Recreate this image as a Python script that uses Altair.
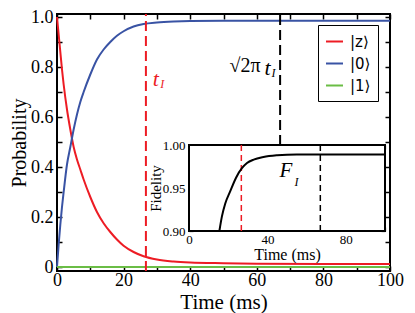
import altair as alt
import pandas as pd

# ---- data ----
time = [0, 0.5, 1, 1.5, 2, 3, 4, 5, 6, 7, 8, 10, 12, 14, 16, 18, 20, 23, 26, 30, 35, 40, 50, 60, 80, 100]
p_z = [1.0, 0.93, 0.86, 0.79, 0.73, 0.63, 0.55, 0.48, 0.43, 0.39, 0.35, 0.28, 0.22, 0.175, 0.14, 0.11,
       0.085, 0.06, 0.043, 0.03, 0.022, 0.018, 0.015, 0.013, 0.012, 0.012]
p_0 = [0.0, 0.09, 0.17, 0.24, 0.30, 0.41, 0.48, 0.55, 0.61, 0.66, 0.70, 0.77, 0.83, 0.87, 0.90, 0.925,
       0.943, 0.962, 0.972, 0.978, 0.982, 0.984, 0.985, 0.985, 0.985, 0.985]
time_1 = [0, 20, 40, 60, 80, 100]
p_1 = [0.0, 0.0, 0.0, 0.0, 0.0, 0.0]

fid_t = [15.5, 16.8, 18.5, 21, 24, 27, 29.6, 33, 38, 45, 55, 70, 100]
fid_v = [0.90, 0.917, 0.932, 0.946, 0.962, 0.973, 0.979, 0.983, 0.986, 0.988, 0.989, 0.989, 0.989]

t_I = 26.7
t_I2 = 67.0

states = ["|z⟩", "|0⟩", "|1⟩"]
colors = ["#ed1c24", "#3953a4", "#6abd45"]

x_ticks = [0, 10, 20, 30, 40, 50, 60, 70, 80, 90, 100]
y_ticks = [0, 0.1, 0.2, 0.3, 0.4, 0.5, 0.6, 0.7, 0.8, 0.9, 1.0]
ix_ticks = [0, 10, 20, 30, 40, 50, 60, 70, 80, 90, 100]
iy_ticks = [0.90, 0.91, 0.92, 0.93, 0.94, 0.95, 0.96, 0.97, 0.98, 0.99, 1.00]

FONT = "Liberation Serif"
LFONT = "DejaVu Sans"

rows = []
for t, a, b in zip(time, p_z, p_0):
    rows.append({"t": t, "p": a, "state": states[0]})
    rows.append({"t": t, "p": b, "state": states[1]})
for t, c in zip(time_1, p_1):
    rows.append({"t": t, "p": c, "state": states[2]})
df = pd.DataFrame(rows)
fid = pd.DataFrame({"t": fid_t, "f": fid_v})
one = pd.DataFrame({"k": [0]})

W, H = 333, 257
YTOP, YBOT = 1.012, -0.016
xs = alt.Scale(domain=[0, 100], nice=False, zero=False)
ys = alt.Scale(domain=[YBOT, YTOP], nice=False, zero=False)
ixs = alt.Scale(domain=[0, 100], range=[132, 328], nice=False, zero=False)
iys = alt.Scale(domain=[0.9, 1.0], range=[217, 131], nice=False, zero=False)

# ---- main plot (axes come from the frame layers) ----
lines = alt.Chart(df).mark_line(strokeWidth=2, interpolate="monotone").encode(
    x=alt.X("t:Q", scale=xs, axis=None),
    y=alt.Y("p:Q", scale=ys, axis=None),
    color=alt.Color("state:N", scale=alt.Scale(domain=states, range=colors), legend=alt.Legend(
        orient="none", legendX=261, legendY=11, title=None, symbolType="stroke", symbolSize=289,
        symbolStrokeWidth=2, labelFont=LFONT, labelFontSize=15, labelColor="black",
        strokeColor="black", fillColor="white", padding=7, rowPadding=4, labelOffset=6)),
)

rule_red = alt.Chart(one).mark_rule(color="#ed1c24", strokeWidth=2, strokeDash=[10, 5]).encode(
    x=alt.X(datum=t_I, axis=None), y=alt.Y(datum=YBOT, axis=None), y2=alt.Y2(datum=YTOP))
rule_blk = alt.Chart(one).mark_rule(color="black", strokeWidth=2, strokeDash=[10, 5]).encode(
    x=alt.X(datum=t_I2, axis=None), y=alt.Y(datum=0.488, axis=None), y2=alt.Y2(datum=YTOP))


def txt(s, x, y, size, color="black", italic=True):
    return alt.Chart(one).mark_text(text=s, font=FONT, fontSize=size, color=color,
                                    fontStyle="italic" if italic else "normal", baseline="middle").encode(
        x=alt.X(datum=x, axis=None), y=alt.Y(datum=y, axis=None))


main = alt.layer(
    lines, rule_red, rule_blk,
    txt("t", 29.7, 0.754, 22, "#ed1c24"), txt("I", 31.6, 0.734, 12, "#ed1c24"),
    txt("√2π", 56.5, 0.804, 20, italic=False),
    txt("t", 63.2, 0.796, 22), txt("I", 65.0, 0.778, 12),
)

common = dict(domain=False, grid=False, labelFont=FONT, titleFont=FONT, titleFontWeight="normal",
              labelColor="black", titleColor="black", tickColor="black", labelOverlap=False, labelFlush=False)

frame_bl = alt.Chart(df).mark_point(opacity=0).encode(
    x=alt.X("t:Q", scale=xs, axis=alt.Axis(
        orient="bottom", values=x_ticks, labelExpr="datum.value % 20 == 0 ? datum.label : ''", format="d",
        tickSize=5, tickWidth=1.5, offset=-5, labelPadding=0, labelFontSize=18,
        title="Time (ms)", titleFontSize=21, titleY=42, titleBaseline="alphabetic", **common)),
    y=alt.Y("p:Q", scale=ys, axis=alt.Axis(
        orient="left", values=y_ticks,
        labelExpr="round(datum.value*10) % 2 == 0 ? (datum.value == 0 ? '0' : format(datum.value, '.1f')) : ''",
        tickSize=5, tickWidth=1.5, offset=-5, labelPadding=4, labelFontSize=18,
        title="Probability", titleFontSize=20, titleX=-37, titleBaseline="alphabetic", **common)),
)

frame_tr = alt.Chart(df).mark_point(opacity=0).encode(
    x=alt.X("t:Q", scale=xs, axis=alt.Axis(orient="top", values=x_ticks, labels=False, domain=False,
                                           grid=False, tickSize=5, tickWidth=1.5, tickColor="black",
                                           offset=-5, title=None)),
    y=alt.Y("p:Q", scale=ys, axis=alt.Axis(orient="right", values=y_ticks, labels=False, domain=False,
                                           grid=False, tickSize=5, tickWidth=1.5, tickColor="black",
                                           offset=-5, title=None)),
)

# ---- inset ----
bg = alt.Chart(one).mark_rect(fill="white", stroke="black", strokeWidth=2).encode(
    x=alt.X(datum=0, type="quantitative", scale=ixs, axis=None),
    x2=alt.X2(datum=100),
    y=alt.Y(datum=0.9, type="quantitative", scale=iys, axis=None),
    y2=alt.Y2(datum=1.0),
)
fline = alt.Chart(fid).mark_line(color="black", strokeWidth=2, interpolate="monotone").encode(
    x=alt.X("t:Q", scale=ixs, axis=None), y=alt.Y("f:Q", scale=iys, axis=None))
irule_red = alt.Chart(one).mark_rule(color="#ed1c24", strokeWidth=1.5, strokeDash=[6, 4]).encode(
    x=alt.X(datum=t_I, axis=None), y=alt.Y(datum=0.9, axis=None), y2=alt.Y2(datum=1.0))
irule_blk = alt.Chart(one).mark_rule(color="black", strokeWidth=1.5, strokeDash=[6, 4]).encode(
    x=alt.X(datum=t_I2, axis=None), y=alt.Y(datum=0.9, axis=None), y2=alt.Y2(datum=1.0))


def itxt(s, x, y, size):
    return alt.Chart(one).mark_text(text=s, font=FONT, fontSize=size, color="black",
                                    fontStyle="italic", baseline="middle").encode(
        x=alt.X(datum=x, axis=None), y=alt.Y(datum=y, axis=None))


inset = alt.layer(bg, irule_red, irule_blk, fline, itxt("F", 49.5, 0.970, 21), itxt("I", 54.8, 0.957, 12))

iframe_bl = alt.Chart(fid).mark_point(opacity=0).encode(
    x=alt.X("t:Q", scale=ixs, axis=alt.Axis(
        orient="bottom", values=ix_ticks, labelExpr="datum.value % 40 == 0 && datum.value < 100 ? datum.label : ''",
        format="d", tickSize=4, tickWidth=1.2, offset=-44, labelPadding=2, labelFontSize=13,
        title="Time (ms)", titleFontSize=16, titlePadding=0, **common)),
    y=alt.Y("f:Q", scale=iys, axis=alt.Axis(
        orient="left", values=iy_ticks,
        labelExpr="round(datum.value*100) % 5 == 0 ? format(datum.value, '.2f') : ''",
        tickSize=4, tickWidth=1.2, offset=-136, labelPadding=4, labelFontSize=13,
        title="Fidelity", titleFontSize=15, titleX=-33, titleBaseline="alphabetic", **common)),
)

iframe_tr = alt.Chart(fid).mark_point(opacity=0).encode(
    x=alt.X("t:Q", scale=ixs, axis=alt.Axis(orient="top", values=ix_ticks, labels=False, domain=False,
                                            grid=False, tickSize=4, tickWidth=1.2, tickColor="black",
                                            offset=-135, title=None)),
    y=alt.Y("f:Q", scale=iys, axis=alt.Axis(orient="right", values=iy_ticks, labels=False, domain=False,
                                            grid=False, tickSize=4, tickWidth=1.2, tickColor="black",
                                            offset=-9, title=None)),
)

chart = alt.layer(main, frame_bl, frame_tr, inset, iframe_bl, iframe_tr).resolve_scale(
    x="independent", y="independent"
).properties(
    width=W, height=H,
    autosize=alt.AutoSizeParams(type="none"),
    padding={"left": 49, "top": 6, "right": 17, "bottom": 42},
).configure(font=FONT).configure_view(
    stroke="black", strokeWidth=2
).configure_axis(
    labelColor="black", titleColor="black", tickColor="black", titleFontWeight="normal",
    labelFont=FONT, titleFont=FONT
)

chart.save("out.html", embed_options={"renderer": "svg", "actions": False})
